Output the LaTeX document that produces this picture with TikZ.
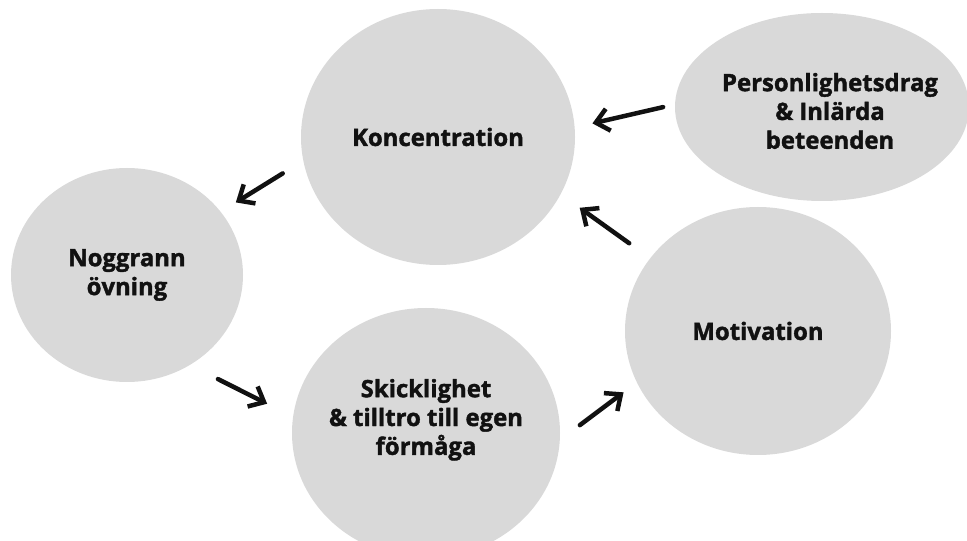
\documentclass[tikz,border=0pt]{standalone}
\usepackage{fontspec}
\setmainfont{Open Sans}[BoldFeatures={FakeBold=1.6}]
\usetikzlibrary{arrows.meta,shapes.geometric}
\definecolor{bubblegrey}{HTML}{D9D9D9}
\definecolor{ink}{HTML}{111111}

\begin{document}
\begin{tikzpicture}[line cap=round,
  bubble/.style={ellipse, fill=bubblegrey, inner sep=0pt},
  caption/.style={align=center, text=ink, font=\fontsize{17}{20.5}\selectfont\bfseries},
  flow/.style={ink, line width=3.2pt, -{Straight Barb[length=3.2mm,width=5.6mm]}}]
  \useasboundingbox (0,0) rectangle (24.175,13.5);
  % bubbles
  \node[bubble, minimum width=6.85cm, minimum height=6.4cm] (konc) at (10.95,10.075) {};
  \node[bubble, minimum width=7.35cm, minimum height=4.7cm] (pers) at (20.55,10.825) {};
  \node[bubble, minimum width=5.8cm, minimum height=5.35cm] (nogg) at (3.175,6.625) {};
  \node[bubble, minimum width=6.65cm, minimum height=6.2cm] (motiv) at (18.95,5.225) {};
  \node[bubble, minimum width=6.7cm, minimum height=6.25cm] (skick) at (10.65,2.675) {};
  % texts
  \node[caption] (konctxt) at (konc.center) {Koncentration};
  \node[caption] (perstxt) at ([xshift=0.2cm,yshift=-0.1cm]pers.center) {Personlighetsdrag\\ \& Inlärda\\ beteenden};
  \node[caption] (noggtxt) at (nogg.center) {Noggrann\\ övning};
  \node[caption] (motivtxt) at (motiv.center) {Motivation};
  \node[caption] (skicktxt) at ([yshift=0.33cm]skick.center) {Skicklighet\\ \& tilltro till egen\\ förmåga};
  % arrows
  \draw[flow, shorten <=0.3cm, shorten >=0.45cm] (pers.179) -- (konc.4);
  \draw[flow, shorten <=0.6cm, shorten >=0.44cm] (konc.190) -- (nogg.34.5);
  \draw[flow, shorten <=0.78cm, shorten >=0.72cm] (nogg.-55) -- (skick.173);
  \draw[flow, shorten <=0.62cm, shorten >=0.41cm] (skick.-3) -- (motiv.203);
  \draw[flow, shorten <=0.64cm, shorten >=0.58cm] (motiv.146) -- (konc.-25.7);
\end{tikzpicture}
\end{document}
